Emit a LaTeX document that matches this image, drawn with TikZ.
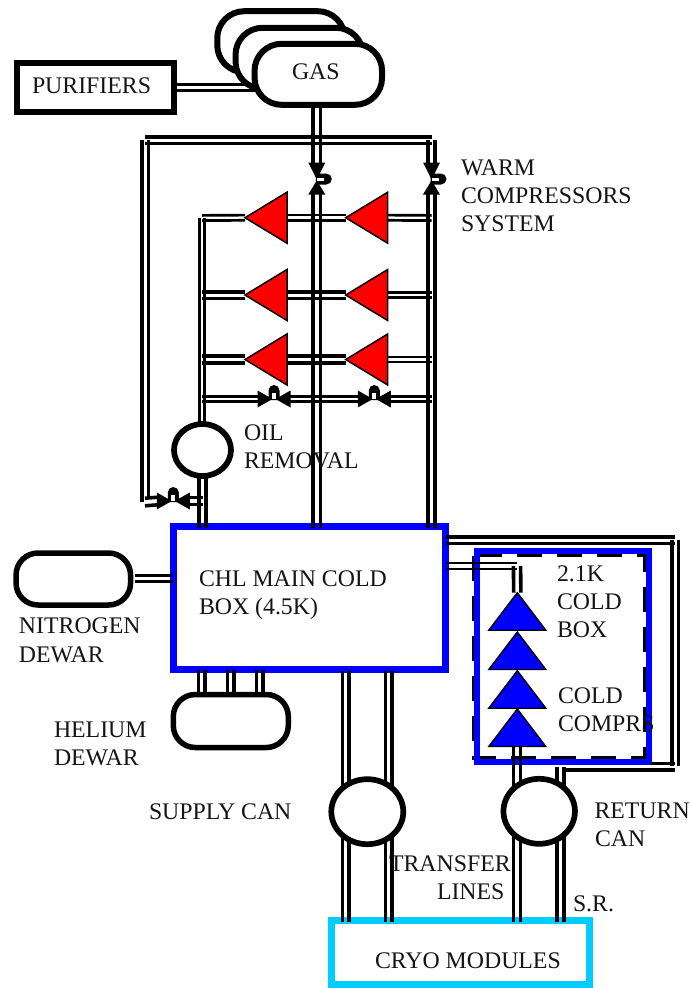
\documentclass[tikz,border=0pt]{standalone}
\usepackage{fontspec}
\setmainfont{Liberation Serif}
\usetikzlibrary{shapes.geometric}
\definecolor{mainblue}{RGB}{0,0,255}
\definecolor{cryocyan}{RGB}{0,204,255}
\tikzset{
  rail/.style={draw=black,line width=3.6pt},
  thinrail/.style={draw=black,line width=2.7pt},
  tank/.style={draw=black,fill=white,line width=6pt,rounded corners=27pt,minimum width=127.5pt,minimum height=61pt,inner sep=0pt,outer sep=0pt},
  vessel/.style={draw=black,fill=white,line width=5.7pt,ellipse,inner sep=0pt,outer sep=0pt},
  box/.style={draw,fill=white,inner sep=0pt,outer sep=0pt},
  redtri/.style={isosceles triangle,isosceles triangle stretches,shape border rotate=180,draw=black,fill=red,line width=1.5pt,minimum width=51pt,minimum height=42pt,inner sep=0pt,outer sep=0pt,anchor=apex},
  bluetri/.style={isosceles triangle,isosceles triangle stretches,shape border rotate=90,draw=black,fill=mainblue,line width=1.4pt,minimum width=57pt,minimum height=37.5pt,inner sep=0pt,outer sep=0pt,anchor=apex},
  label/.style={anchor=base west,inner sep=0pt,outer sep=0pt,font=\fontsize{23.8pt}{28pt}\selectfont,text=black!92},
}
\newcommand{\vpipe}[4][rail]{%
  \draw[#1,transform canvas={xshift=-#2pt}] (#3) -- (#4);
  \draw[#1,transform canvas={xshift=#2pt}] (#3) -- (#4);}
\newcommand{\hpipe}[4][rail]{%
  \draw[#1,transform canvas={yshift=-#2pt}] (#3) -- (#4);
  \draw[#1,transform canvas={yshift=#2pt}] (#3) -- (#4);}
% valve on a vertical line, knob on the right
\newcommand{\valveV}[3]{%
  \coordinate (#1) at (#2,#3);
  \coordinate (#1-n) at (#2,#3-15);
  \coordinate (#1-s) at (#2,#3+14);
  \fill[black] (#2-8.5,#3-16.5) -- (#2+8.5,#3-16.5) -- (#2,#3+0.5) -- cycle;
  \fill[black] (#2-8.5,#3+15.5) -- (#2+8.5,#3+15.5) -- (#2,#3+1.5) -- cycle;
  \fill[black] (#2-1,#3-5.5) -- (#2+9.5,#3-5.5) arc[start angle=-90,end angle=90,radius=5.5] -- (#2-1,#3+5.5) -- cycle;
  \fill[white] (#2,#3-1.5) rectangle (#2+7,#3+1.5);}
% valve on a horizontal line, knob on top
\newcommand{\valveH}[3]{%
  \coordinate (#1) at (#2,#3);
  \coordinate (#1-w) at (#2-15,#3);
  \coordinate (#1-e) at (#2+15,#3);
  \fill[black] (#2-16.5,#3-8.5) -- (#2-16.5,#3+8.5) -- (#2-1.5,#3) -- cycle;
  \fill[black] (#2+16.5,#3-8.5) -- (#2+16.5,#3+8.5) -- (#2+1.5,#3) -- cycle;
  \fill[black] (#2-5.5,#3+1) -- (#2-5.5,#3-8.5) arc[start angle=180,end angle=360,radius=5.5] -- (#2+5.5,#3+1) -- cycle;
  \fill[white] (#2-2,#3-6) rectangle (#2+2,#3-0.5);}
\begin{document}
\begin{tikzpicture}[x=1pt,y=-1pt]
\useasboundingbox (0,0) rectangle (689,988);

% ---- gas tanks and purifiers
\node[tank] (tankC) at (281,41.7) {};
\node[tank] (tankB) at (299.3,58.3) {};
\coordinate (purR) at (173.5,87.8);
\coordinate (gasL) at (258,87.8);
\hpipe[thinrail]{3}{purR}{gasL}
\node[tank] (gas) at (318.3,74.3) {};
\node[box,draw=black,line width=6pt,minimum width=157pt,minimum height=49pt] (pur) at (95,87.5) {};

% ---- main cold box
\node[box,draw=mainblue,line width=7pt,minimum width=272pt,minimum height=143pt] (main) at (309.5,598) {};

% ---- warm compressors
\node[redtri] (r1a) at (245,217.7) {};
\node[redtri] (r1b) at (345.7,217.7) {};
\node[redtri] (r2a) at (245,295) {};
\node[redtri] (r2b) at (345.7,295) {};
\node[redtri] (r3a) at (245,359.5) {};
\node[redtri] (r3b) at (345.7,359.5) {};

% ---- valves
\valveV{va}{316.8}{179}
\valveV{vb}{431.5}{179}
\valveH{vc}{274}{399}
\valveH{vd}{374.3}{399}
\valveH{ve}{173.3}{501}

\coordinate (vaLow) at (316.8,528);
\coordinate (vbLow) at (431.5,528);
\vpipe{3.6}{va-n |- gas.south}{va-n}
\vpipe{3.6}{va-s}{vaLow}
\vpipe{3.6}{vb-s}{vbLow}

% bypass loop
\coordinate (topL) at (145,140);
\coordinate (topR) at (431.7,140);
\coordinate (byBot) at (145,502);
\hpipe{3.3}{topL}{topR}
\draw[rail] (141.8,140) -- (141.8,502);
\draw[rail] (148.3,140) -- (148.3,497);
\draw[rail] (428.2,140) -- (428.2,165);
\draw[rail] (435,140) -- (435,165);

% compressor rows
\coordinate (colL) at (202,218);
\coordinate (colR) at (431.7,218);
\hpipe[thinrail]{2.6}{colL}{r1a.apex}
\hpipe[thinrail]{2.6}{r1a.east}{r1b.apex}
\hpipe[thinrail]{2.6}{r1b.east}{colR}
\coordinate (c2L) at (202,295);
\coordinate (c2R) at (431.7,295);
\hpipe{3.3}{c2L}{r2a.apex}
\hpipe{3.3}{r2a.east}{r2b.apex}
\hpipe[thinrail]{2.6}{r2b.east}{c2R}
\coordinate (c3L) at (202,359.5);
\coordinate (c3R) at (431.7,359.5);
\hpipe{3.3}{c3L}{r3a.apex}
\hpipe{3.3}{r3a.east}{r3b.apex}
\hpipe[thinrail]{2.6}{r3b.east}{c3R}
\coordinate (c4L) at (202,399);
\coordinate (c4R) at (431.7,399);
\hpipe[thinrail]{2.7}{c4L}{vc-w}
\hpipe[thinrail]{2.7}{vc-e}{vd-w}
\hpipe[thinrail]{2.7}{vd-e}{c4R}

% oil removal
\node[vessel,minimum width=57pt,minimum height=52pt] (oil) at (202.5,450) {};
\coordinate (oilTop) at (202,426);
\vpipe[thinrail]{2.2}{oilTop}{colL}
\coordinate (oilBot) at (202.5,476);
\coordinate (oilLow) at (202.5,528);
\vpipe{3.3}{oilBot}{oilLow}
\hpipe{3.8}{byBot}{ve-w}
\coordinate (veEnd) at (202.5,501);
\hpipe[thinrail]{3.8}{ve-e}{veEnd}

% ---- dewars
\node[tank,line width=5.5pt,minimum width=114.5pt,minimum height=52pt,rounded corners=22pt] (n2) at (73.3,579) {};
\node[tank,line width=5.5pt,minimum width=115pt,minimum height=53pt,rounded corners=22pt] (he) at (230.8,721) {};
\coordinate (n2R) at (135,578.7);
\coordinate (mainN) at (173,578.7);
\hpipe[thinrail]{3}{n2R}{mainN}
\coordinate (m1) at (201.7,670);
\coordinate (m2) at (230.7,670);
\coordinate (m3) at (259.7,670);
\coordinate (h1) at (201.7,693);
\coordinate (h2) at (230.7,693);
\coordinate (h3) at (259.7,693);
\vpipe{3.3}{m1}{h1}
\vpipe{3.3}{m2}{h2}
\vpipe{3.3}{m3}{h3}

% ---- cryo modules and cans
\node[box,draw=cryocyan,line width=7pt,minimum width=258pt,minimum height=63.5pt] (cryo) at (460,952.7) {};
\coordinate (sa) at (345.6,671);
\coordinate (sb) at (388.6,671);
\coordinate (sc) at (345.6,790);
\coordinate (sd) at (388.6,790);
\coordinate (se) at (345.6,835);
\coordinate (sf) at (388.6,835);
\coordinate (sg) at (345.6,921.5);
\coordinate (sh) at (388.6,921.5);
\vpipe{3.3}{sa}{sc}
\vpipe{3.3}{sb}{sd}
\vpipe{3.3}{se}{sg}
\vpipe{3.3}{sf}{sh}

% ---- 2.1 K cold box
\draw[black,line width=3.2pt,dash pattern=on 25pt off 15pt] (473.5,555.5) rectangle (645,758);
\draw[mainblue,line width=6pt] (477.3,551.3) rectangle (648.7,762);
\node[bluetri] (b1) at (517.3,592.7) {};
\node[bluetri] (b2) at (517.3,632) {};
\node[bluetri] (b3) at (517.3,670.7) {};
\node[bluetri] (b4) at (517.3,709) {};
\coordinate (cbIn) at (517,566);
\coordinate (mainC) at (446,566);
\hpipe[thinrail]{3}{mainC}{cbIn}
\vpipe{3.6}{cbIn}{b1.apex}
\coordinate (rTop) at (517,747);
\coordinate (rMid) at (517,790);
\vpipe{3.6}{rTop}{rMid}
\coordinate (rLo) at (517,835);
\coordinate (rEnd) at (517,921.5);
\vpipe{3.6}{rLo}{rEnd}
\coordinate (qLo) at (560.3,835);
\coordinate (qEnd) at (560.3,921.5);
\vpipe{3.6}{qLo}{qEnd}
\coordinate (qTop) at (560.3,767);
\coordinate (qMid) at (560.3,790);
\vpipe{3.6}{qTop}{qMid}
\coordinate (lpA) at (446,540.3);
\coordinate (lpB) at (675,540.3);
\coordinate (lpC) at (675,766);
\coordinate (lpD) at (651,766);
\hpipe{3.3}{lpA}{lpB}
\vpipe{3.3}{lpB}{lpC}
\draw[rail] (lpD |- 0,763.3) -- (675,763.3);
\draw[rail] (561.7,770) -- (675,770);

% ---- cans on top of their pipes
\node[vessel,minimum width=72pt,minimum height=65pt] (supply) at (367.3,811.7) {};
\node[vessel,minimum width=71.5pt,minimum height=65pt] (return) at (539.2,811.3) {};

% ---- labels
\node[label] (tPur) at (32,93) {PURIFIERS};
\node[label] (tGas) at (292,79) {GAS};
\node[label] (tW1) at (461,175) {WARM};
\node[label] (tW2) at (461,203) {COMPRESSORS};
\node[label] (tW3) at (461,231) {SYSTEM};
\node[label] (tO1) at (244,440) {OIL};
\node[label] (tO2) at (244,468) {REMOVAL};
\node[label] (tC1) at (199,586) {CHL MAIN COLD};
\node[label] (tC2) at (199,614) {BOX (4.5K)};
\node[label] (tN1) at (19,633) {NITROGEN};
\node[label] (tN2) at (19,662) {DEWAR};
\node[label] (tH1) at (54,737) {HELIUM};
\node[label] (tH2) at (54,765) {DEWAR};
\node[label] (tS) at (149,819) {SUPPLY CAN};
\node[label] (tT1) at (389,871) {TRANSFER};
\node[label] (tT2) at (437,899) {LINES};
\node[label] (tSR) at (573,911) {S.R.};
\node[label] (tCM) at (375,968) {CRYO MODULES};
\node[label] (tR1) at (594.5,818) {RETURN};
\node[label] (tR2) at (595,846) {CAN};
\node[label] (tK1) at (557,581) {2.1K};
\node[label] (tK2) at (557,609) {COLD};
\node[label] (tK3) at (557,637) {BOX};
\node[label] (tK4) at (558,703) {COLD};
\node[label] (tK5) at (558,731) {COMPRS};
\end{tikzpicture}
\end{document}
